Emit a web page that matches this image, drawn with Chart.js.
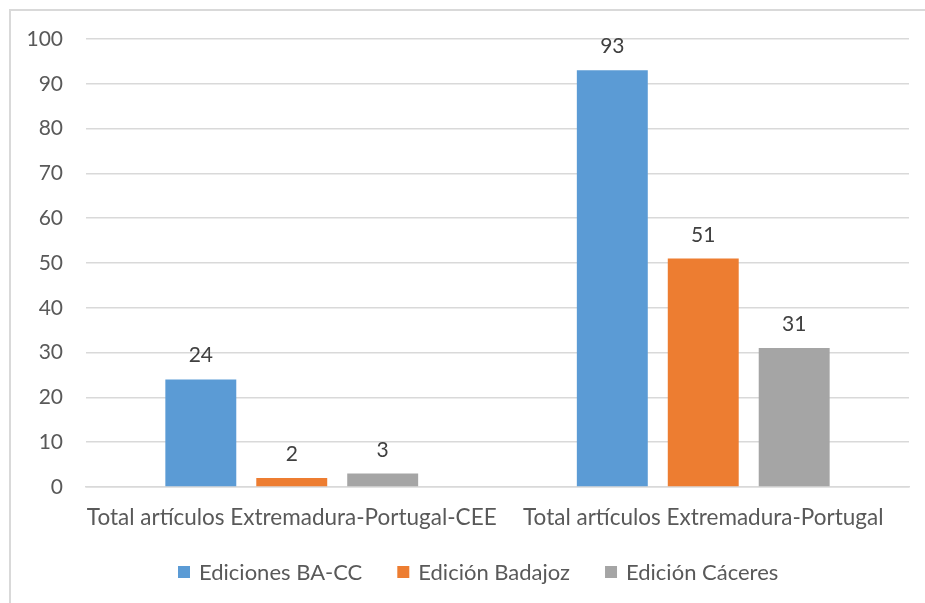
<!DOCTYPE html>
<html>
<head>
<meta charset="utf-8">
<script src="https://cdn.jsdelivr.net/npm/chart.js@4/dist/chart.umd.min.js"></script>
<style>
  html, body { margin: 0; padding: 0; background: #fff; }
  #wrap { position: relative; width: 925px; height: 603px; overflow: hidden; }
  #frame { position: absolute; left: 9px; top: 9px; width: 940px; height: 620px;
           border-top: 2px solid #d9d9d9; border-left: 2px solid #d9d9d9; }
  canvas { position: absolute; left: 0; top: 0; }
</style>
</head>
<body>
<div id="wrap">
  <div id="frame"></div>
  <canvas id="myChart" width="925" height="603"></canvas>
</div>
<script>
var categories = ['Total artículos Extremadura-Portugal-CEE', 'Total artículos Extremadura-Portugal'];
var seriesNames = ['Ediciones BA-CC', 'Edición Badajoz', 'Edición Cáceres'];
var edicionesBACC = [24, 93];
var edicionBadajoz = [2, 51];
var edicionCaceres = [3, 31];
var yTicks = [0, 10, 20, 30, 40, 50, 60, 70, 80, 90, 100];

var FONT = 'Lato, Carlito, Calibri, sans-serif';

// value labels above each bar
var barValues = {
    id: 'barValues',
    afterDatasetsDraw: function(chart) {
        var ctx = chart.ctx;
        ctx.save();
        ctx.font = '21px ' + FONT;
        ctx.fillStyle = '#404040';
        ctx.textAlign = 'center';
        ctx.textBaseline = 'alphabetic';
        chart.data.datasets.forEach(function(ds, i) {
            chart.getDatasetMeta(i).data.forEach(function(bar, j) {
                ctx.fillText(String(ds.data[j]), bar.x, bar.y - 17);
            });
        });
        ctx.restore();
    }
};

// legend row under the axis: square swatch, label, wide gap between entries
var bottomLegend = {
    id: 'bottomLegend',
    afterDraw: function(chart) {
        var ctx = chart.ctx;
        var box = 12, gap = 9, spacing = 35, cx = 478, cy = 572;
        ctx.save();
        ctx.font = '22px ' + FONT;
        ctx.textBaseline = 'middle';
        var items = chart.data.datasets.map(function(ds) {
            return { text: ds.label, color: ds.backgroundColor, w: ctx.measureText(ds.label).width };
        });
        var total = items.reduce(function(s, it) { return s + box + gap + it.w; }, 0) + spacing * (items.length - 1);
        var x = Math.round(cx - total / 2);
        items.forEach(function(it) {
            ctx.fillStyle = it.color;
            ctx.fillRect(x, cy - 6, box, box);
            ctx.fillStyle = '#595959';
            ctx.fillText(it.text, x + box + gap, cy + 1);
            x += box + gap + it.w + spacing;
        });
        ctx.restore();
    }
};

var ctx = document.getElementById('myChart').getContext('2d');
var chart = new Chart(ctx, {
    type: 'bar',
    data: {
        labels: categories,
        datasets: [
            { label: seriesNames[0], data: edicionesBACC, backgroundColor: '#5b9bd5' },
            { label: seriesNames[1], data: edicionBadajoz, backgroundColor: '#ed7d31' },
            { label: seriesNames[2], data: edicionCaceres, backgroundColor: '#a5a5a5' }
        ]
    },
    options: {
        responsive: false,
        animation: false,
        categoryPercentage: 0.663,
        barPercentage: 0.78,
        layout: { padding: { left: 0, right: 16, top: 39, bottom: 55 } },
        plugins: {
            legend: { display: false },
            tooltip: { enabled: false }
        },
        scales: {
            x: {
                grid: { display: false, drawTicks: false },
                border: { color: '#d9d9d9', width: 1.5 },
                ticks: {
                    color: '#595959', padding: 17, maxRotation: 0, minRotation: 0, autoSkip: false,
                    font: { family: FONT, size: 22.5 }
                }
            },
            y: {
                min: 0,
                max: 100,
                afterFit: function(scale) { scale.width = 86; },
                afterBuildTicks: function(scale) {
                    scale.ticks = yTicks.map(function(v) { return { value: v }; });
                },
                grid: { color: '#d9d9d9', lineWidth: 1.5, drawTicks: false },
                border: { display: false },
                ticks: { color: '#595959', padding: 23, font: { family: FONT, size: 21 } }
            }
        }
    },
    plugins: [barValues, bottomLegend]
});
</script>
</body>
</html>
